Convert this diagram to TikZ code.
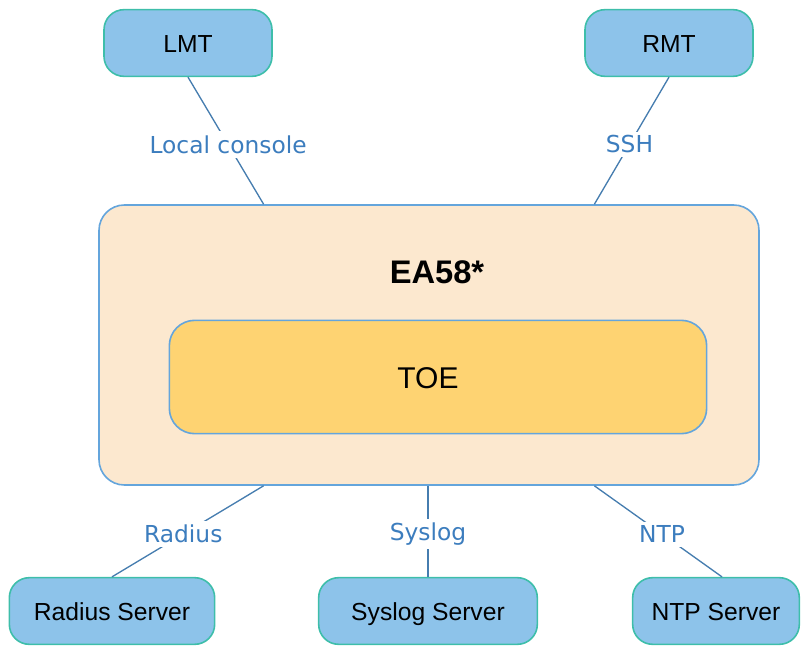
\documentclass[tikz,border=0pt]{standalone}
\usepackage{fontspec}
\setmainfont{Liberation Sans}
\newfontfamily\labelfont{DejaVu Sans}
\usetikzlibrary{positioning, calc}
\definecolor{HostBlue}{RGB}{141, 195, 234}
\definecolor{HostEdge}{RGB}{62, 190, 170}
\definecolor{PeachFill}{RGB}{252, 232, 207}
\definecolor{FrameBlue}{RGB}{100, 165, 220}
\definecolor{ToeGold}{RGB}{254, 211, 114}
\definecolor{LinkBlue}{RGB}{70, 125, 175}
\definecolor{LabelBlue}{RGB}{60, 125, 190}

\begin{document}
\begin{tikzpicture}[
        x=0.75pt, y=-0.75pt,
        host/.style={rectangle, draw=HostEdge, fill=HostBlue, line width=1.2pt, rounded corners=15pt, minimum height=50pt, inner sep=0pt, text height=16pt, text depth=2pt, font=\fontsize{18.5}{20}\selectfont},
        frame/.style={rectangle, draw=FrameBlue, fill=PeachFill, line width=1.2pt, rounded corners=19pt, inner sep=0pt},
        toe/.style={rectangle, draw=FrameBlue, fill=ToeGold, line width=1.2pt, rounded corners=19pt, minimum width=403pt, minimum height=85pt},
        link/.style={draw=LinkBlue, line width=1pt},
        lbl/.style={fill=white, text=LabelBlue, inner sep=3pt, pos=.53, font=\labelfont\fontsize{17.5}{20}\selectfont}
    ]
        \useasboundingbox (0,0) rectangle (801,646);

        \node [frame, minimum width=495pt, minimum height=210pt] (ea58) at (429,345) {};
        \node [font=\bfseries\fontsize{24.5}{27}\selectfont] (ea58label) at (437,272) {EA58*};
        \node [toe] (toe) at (438,377) {};
        \node [font=\fontsize{22.5}{24}\selectfont] (toelabel) at (428,378) {TOE};

        \node [host, minimum width=126pt] (lmt) at (188,43) {LMT};
        \node [host, minimum width=126pt] (rmt) at (669,43) {RMT};
        \node [host, minimum width=154pt] (radius) at (112,611) {Radius Server};
        \node [host, minimum width=164pt] (syslog) at (428,611) {Syslog Server};
        \node [host, minimum width=125pt] (ntp) at (716,611) {NTP Server};

        \path [link] (lmt.south) -- node[lbl] {Local console} ($(ea58.north west)!.25!(ea58.north east)$);
        \path [link] (rmt.south) -- node[lbl] {SSH} ($(ea58.north west)!.75!(ea58.north east)$);
        \path [link] ($(ea58.south west)!.25!(ea58.south east)$) -- node[lbl] {Radius} (radius.north);
        \path [link] (ea58.south -| syslog.north) -- node[lbl] {Syslog} (syslog.north);
        \path [link] ($(ea58.south west)!.75!(ea58.south east)$) -- node[lbl] {NTP} ($(ntp.north)+(6,0)$);
    \end{tikzpicture}
\end{document}
